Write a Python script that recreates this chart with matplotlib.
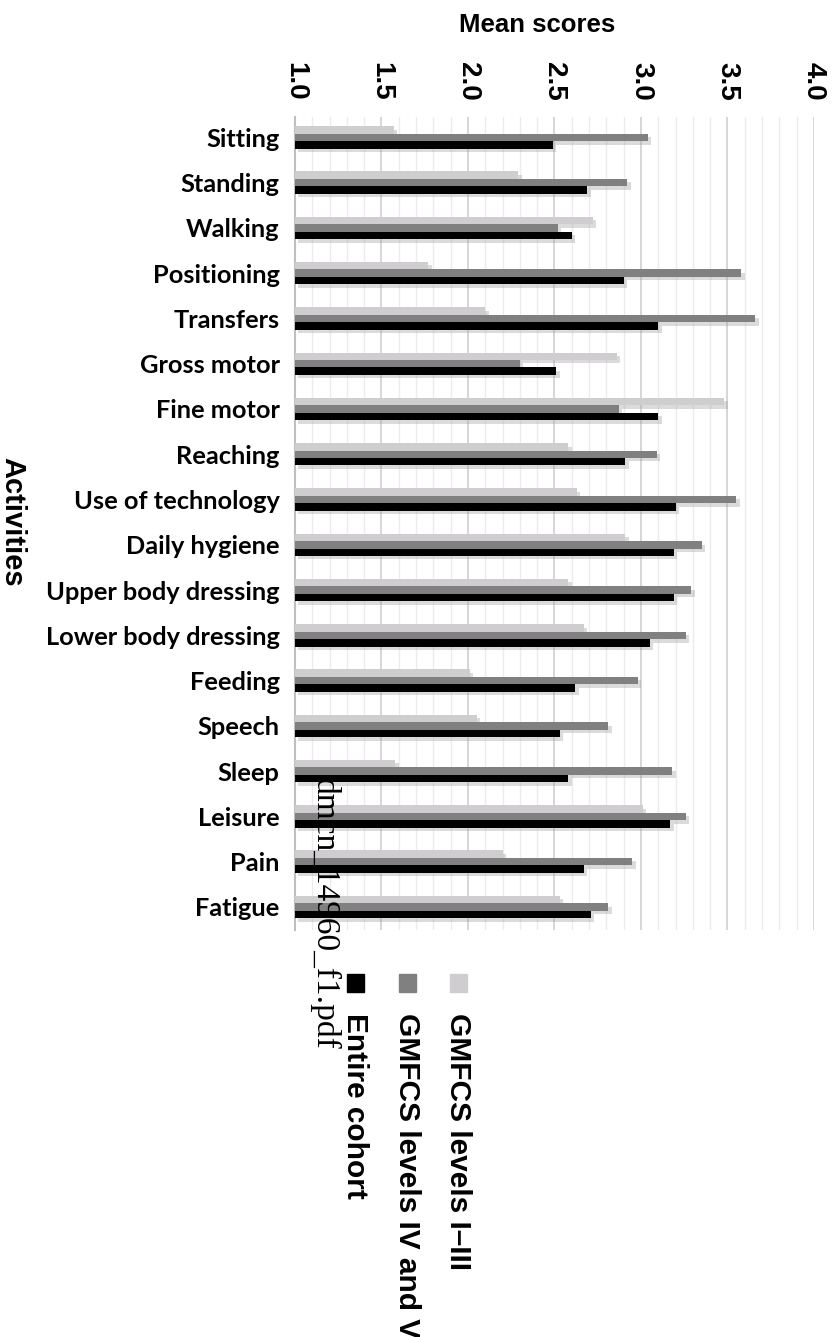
import matplotlib
matplotlib.use("Agg")
import matplotlib.pyplot as plt
import matplotlib.patheffects as pe
from matplotlib.patches import Rectangle
import numpy as np

categories = ["Sitting", "Standing", "Walking", "Positioning", "Transfers",
              "Gross motor", "Fine motor", "Reaching", "Use of technology",
              "Daily hygiene", "Upper body dressing", "Lower body dressing",
              "Feeding", "Speech", "Sleep", "Leisure", "Pain", "Fatigue"]
gmfcs_1_3 = [1.57, 2.29, 2.72, 1.77, 2.10, 2.86, 3.48, 2.58, 2.63,
             2.91, 2.58, 2.67, 2.01, 2.05, 1.58, 3.01, 2.20, 2.53]
gmfcs_4_5 = [3.04, 2.92, 2.52, 3.58, 3.66, 2.30, 2.87, 3.09, 3.55,
             3.35, 3.29, 3.26, 2.98, 2.81, 3.18, 3.26, 2.95, 2.81]
entire = [2.49, 2.69, 2.60, 2.90, 3.10, 2.51, 3.10, 2.91, 3.20,
          3.19, 3.19, 3.05, 2.62, 2.53, 2.58, 3.17, 2.67, 2.71]
series_names = ["GMFCS levels I\u2013III", "GMFCS levels IV and V", "Entire cohort"]
x_ticks = [1.0, 1.5, 2.0, 2.5, 3.0, 3.5, 4.0]

colors = ["#cfcdcf", "#808080", "#000000"]

W, H = 838, 1337
fig = plt.figure(figsize=(W / 100, H / 100), dpi=100)
ax = fig.add_axes([295 / W, 1 - 930 / H, (814 - 295) / W, (930 - 117) / H])

y = np.arange(len(categories))
bh = 0.165
offsets = [-bh, 0, bh]
shadow = [pe.SimplePatchShadow(offset=(2.5, -2.5), shadow_rgbFace="#999999", alpha=0.35), pe.Normal()]
for vals, off, col in zip([gmfcs_1_3, gmfcs_4_5, entire], offsets, colors):
    bars = ax.barh(y + off, np.array(vals) - 1.0, left=1.0, height=bh, color=col, zorder=3)
    for b in bars:
        b.set_path_effects(shadow)

ax.set_xlim(1.0, 4.0)
ax.set_ylim(len(categories) - 0.5 + 0.01, -0.45)
ax.set_xticks(x_ticks)
ax.set_xticks(np.arange(1.0, 4.0001, 0.1), minor=True)
ax.grid(True, axis="x", which="minor", color="#ececec", lw=1, zorder=0)
ax.grid(True, axis="x", which="major", color="#cfcfcf", lw=1.2, zorder=0)
ax.xaxis.tick_top()
ax.tick_params(axis="x", which="both", length=0, pad=12)
ax.set_xticklabels([f"{v:.1f}" for v in x_ticks], rotation=-90,
                   fontfamily="Liberation Sans", fontweight="bold", fontsize=20)
ax.set_yticks(y)
ax.set_yticklabels(categories, fontfamily="Lato", fontweight="bold", fontsize=18.3)
ax.tick_params(axis="y", length=0, pad=11)
for s in ["top", "right", "bottom"]:
    ax.spines[s].set_visible(False)
ax.spines["left"].set_color("#bfbfbf")
ax.spines["left"].set_linewidth(1.5)

fig.text(537 / W, 1 - 25 / H, "Mean scores", ha="center", va="center",
         fontfamily="Liberation Sans", fontweight="bold", fontsize=18.5)
fig.text(12 / W, 1 - 522 / H, "Activities", ha="center", va="center", rotation=-90,
         fontfamily="Liberation Sans", fontweight="bold", fontsize=21)

# legend (rotated)
leg_x = [458, 407, 355]
for name, col, lx in zip(series_names, colors, leg_x):
    fig.patches.append(Rectangle(((lx - 8) / W, 1 - 992 / H), 17 / W, 18 / H,
                                 transform=fig.transFigure, color=col, figure=fig))
    fig.text(lx / W, 1 - 1013 / H, name, ha="center", va="top", rotation=-90,
             fontfamily="Liberation Sans", fontweight="bold", fontsize=21.5)

fig.text(324 / W, 1 - 778 / H, "dmcn_14960_f1.pdf", ha="center", va="top", rotation=-90,
         fontfamily="Liberation Serif", fontsize=24, color="black")

fig.savefig("out.png", dpi=100)
